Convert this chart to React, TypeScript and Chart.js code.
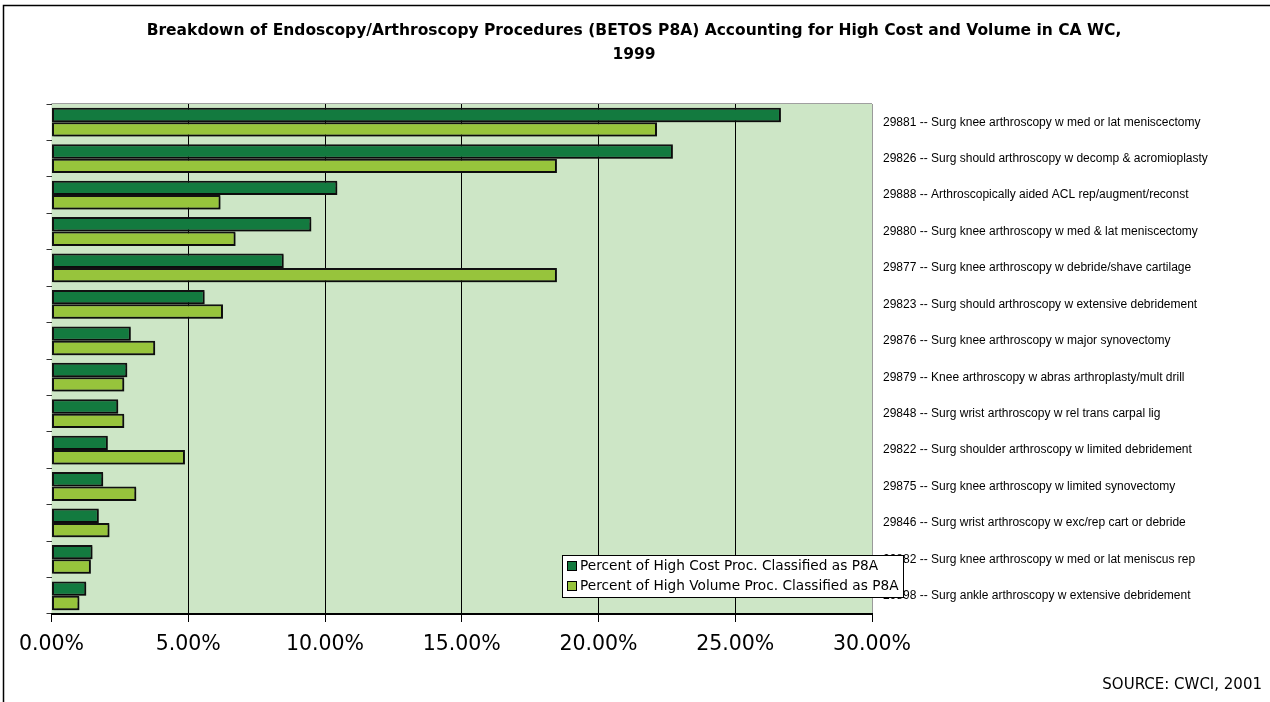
import { useEffect, useRef } from 'react';
import { Chart, registerables } from 'chart.js';

Chart.register(...registerables);

const categories = [
  '29881 -- Surg knee arthroscopy w med or lat meniscectomy',
  '29826 -- Surg should arthroscopy w decomp & acromioplasty',
  '29888 -- Arthroscopically aided ACL rep/augment/reconst',
  '29880 -- Surg knee arthroscopy w med & lat meniscectomy',
  '29877 -- Surg knee arthroscopy w debride/shave cartilage',
  '29823 -- Surg should arthroscopy w extensive debridement',
  '29876 -- Surg knee arthroscopy w major synovectomy',
  '29879 -- Knee arthroscopy w abras arthroplasty/mult drill',
  '29848 -- Surg wrist arthroscopy w rel trans carpal lig',
  '29822 -- Surg shoulder arthroscopy w limited debridement',
  '29875 -- Surg knee arthroscopy w limited synovectomy',
  '29846 -- Surg wrist arthroscopy w exc/rep cart or debride',
  '29882 -- Surg knee arthroscopy w med or lat meniscus rep',
  '29898 -- Surg ankle arthroscopy w extensive debridement',
];

const highCostPct = [26.67, 22.72, 10.45, 9.5, 8.49, 5.6, 2.9, 2.77, 2.44, 2.06, 1.89, 1.73, 1.5, 1.27];
const highVolumePct = [22.14, 18.48, 6.18, 6.73, 18.48, 6.27, 3.79, 2.66, 2.66, 4.88, 3.1, 2.12, 1.44, 1.02];

const seriesNames = [
  'Percent of High Cost Proc. Classified as P8A',
  'Percent of High Volume Proc. Classified as P8A',
];

const xMin = 0;
const xMax = 30;
const xStep = 5;

const titleLines = [
  'Breakdown of Endoscopy/Arthroscopy Procedures (BETOS P8A) Accounting for High Cost and Volume in CA WC,',
  '1999',
];
const sourceText = 'SOURCE: CWCI, 2001';

const DARK = '#137A3F';
const LIGHT = '#97C43C';
const PLOT_BG = '#CDE6C6';
const W = 1270;
const H = 702;

const decorPlugin = {
  id: 'decor',
  beforeDraw(chart: any) {
    const { ctx, chartArea: a } = chart;
    ctx.save();
    ctx.fillStyle = '#ffffff';
    ctx.fillRect(0, 0, chart.width, chart.height);
    ctx.strokeStyle = '#000';
    ctx.lineWidth = 1.5;
    ctx.beginPath();
    ctx.moveTo(3.5, chart.height);
    ctx.lineTo(3.5, 5.5);
    ctx.lineTo(chart.width, 5.5);
    ctx.stroke();
    ctx.fillStyle = PLOT_BG;
    ctx.fillRect(a.left, a.top, a.right - a.left, a.bottom - a.top);
    ctx.strokeStyle = '#a0a0a0';
    ctx.lineWidth = 1;
    ctx.beginPath();
    ctx.moveTo(a.left, a.top - 0.5);
    ctx.lineTo(a.right, a.top - 0.5);
    ctx.stroke();
    ctx.restore();
  },
  beforeDatasetsDraw(chart: any) {
    const ctx = chart.ctx;
    ctx.save();
    ctx.shadowColor = 'rgba(0,0,0,0.35)';
    ctx.shadowOffsetX = 1.5;
    ctx.shadowOffsetY = 1.5;
    ctx.shadowBlur = 1;
  },
  afterDatasetsDraw(chart: any) {
    chart.ctx.restore();
  },
  afterDraw(chart: any) {
    const { ctx } = chart;
    ctx.save();
    ctx.fillStyle = '#000';
    ctx.textAlign = 'center';
    ctx.textBaseline = 'middle';
    ctx.font = 'bold 15.5px "DejaVu Sans"';
    ctx.fillText(titleLines[0], 634, 31);
    ctx.fillText(titleLines[1], 634, 55);
    ctx.textAlign = 'right';
    ctx.font = '15px "DejaVu Sans"';
    ctx.fillText(sourceText, 1262, 685);
    const lx = 562.5, ly = 555.5, lw = 341, lh = 42;
    ctx.fillStyle = '#fff';
    ctx.fillRect(lx, ly, lw, lh);
    ctx.strokeStyle = '#000';
    ctx.lineWidth = 1;
    ctx.strokeRect(lx, ly, lw, lh);
    const colors = [DARK, LIGHT];
    ctx.textAlign = 'left';
    ctx.font = '13.7px "DejaVu Sans"';
    seriesNames.forEach((name, i) => {
      const cy = 566 + i * 20;
      ctx.fillStyle = colors[i];
      ctx.fillRect(567, cy - 5, 10, 10);
      ctx.strokeStyle = '#000';
      ctx.strokeRect(567.5, cy - 4.5, 9, 9);
      ctx.fillStyle = '#000';
      ctx.fillText(name, 580, cy);
    });
    ctx.restore();
  },
};

export default function App() {
  const ref = useRef<HTMLCanvasElement | null>(null);
  useEffect(() => {
    if (!ref.current) return;
    const chart = new Chart(ref.current, {
      type: 'bar',
      data: {
        labels: categories,
        datasets: [
          {
            label: seriesNames[0],
            data: highCostPct,
            backgroundColor: DARK,
            borderColor: '#111',
            borderWidth: 2,
            borderSkipped: false,
            categoryPercentage: 0.79,
            barPercentage: 1.0,
          },
          {
            label: seriesNames[1],
            data: highVolumePct,
            backgroundColor: LIGHT,
            borderColor: '#111',
            borderWidth: 2,
            borderSkipped: false,
            categoryPercentage: 0.79,
            barPercentage: 1.0,
          },
        ],
      },
      options: {
        indexAxis: 'y',
        responsive: false,
        animation: false,
        layout: { padding: { top: 104, left: 0, right: 0, bottom: 0 } },
        plugins: {
          legend: { display: false },
          title: { display: false },
          tooltip: { enabled: false },
        },
        scales: {
          x: {
            type: 'linear',
            min: xMin,
            max: xMax,
            ticks: {
              stepSize: xStep,
              callback: (v: any) => Number(v).toFixed(2) + '%',
              font: { family: '"DejaVu Sans"', size: 20.5 },
              color: '#000',
              padding: 10,
              maxRotation: 0,
            },
            grid: {
              color: (c: any) =>
                c.index === 0 ? 'rgba(0,0,0,0)' : c.tick && c.tick.value === xMax ? '#9a9a9a' : '#000',
              tickColor: '#000',
              tickLength: 8,
              lineWidth: 1,
            },
            border: { display: true, color: '#000', width: 2 },
            afterFit: (s: any) => {
              s.height = 88;
            },
          },
          y: {
            type: 'category',
            position: 'left',
            offset: true,
            ticks: { display: false },
            grid: { drawOnChartArea: false, offset: true, tickLength: 5, color: '#333', lineWidth: 1 },
            border: { display: false },
            afterFit: (s: any) => {
              s.width = 51.5;
            },
          },
          yR: {
            type: 'category',
            position: 'right',
            offset: true,
            labels: categories,
            grid: { display: false, drawTicks: false },
            border: { display: false },
            ticks: {
              font: { family: '"Liberation Sans"', size: 12 },
              color: '#000',
              padding: 11,
              autoSkip: false,
            },
            afterFit: (s: any) => {
              s.width = 398;
            },
          },
        },
      } as any,
      plugins: [decorPlugin],
    });
    return () => chart.destroy();
  }, []);
  return (
    <div style={{ position: 'fixed', left: 0, top: 0, width: W, height: H, background: '#fff' }}>
      <canvas ref={ref} width={W} height={H} style={{ display: 'block' }} />
    </div>
  );
}
